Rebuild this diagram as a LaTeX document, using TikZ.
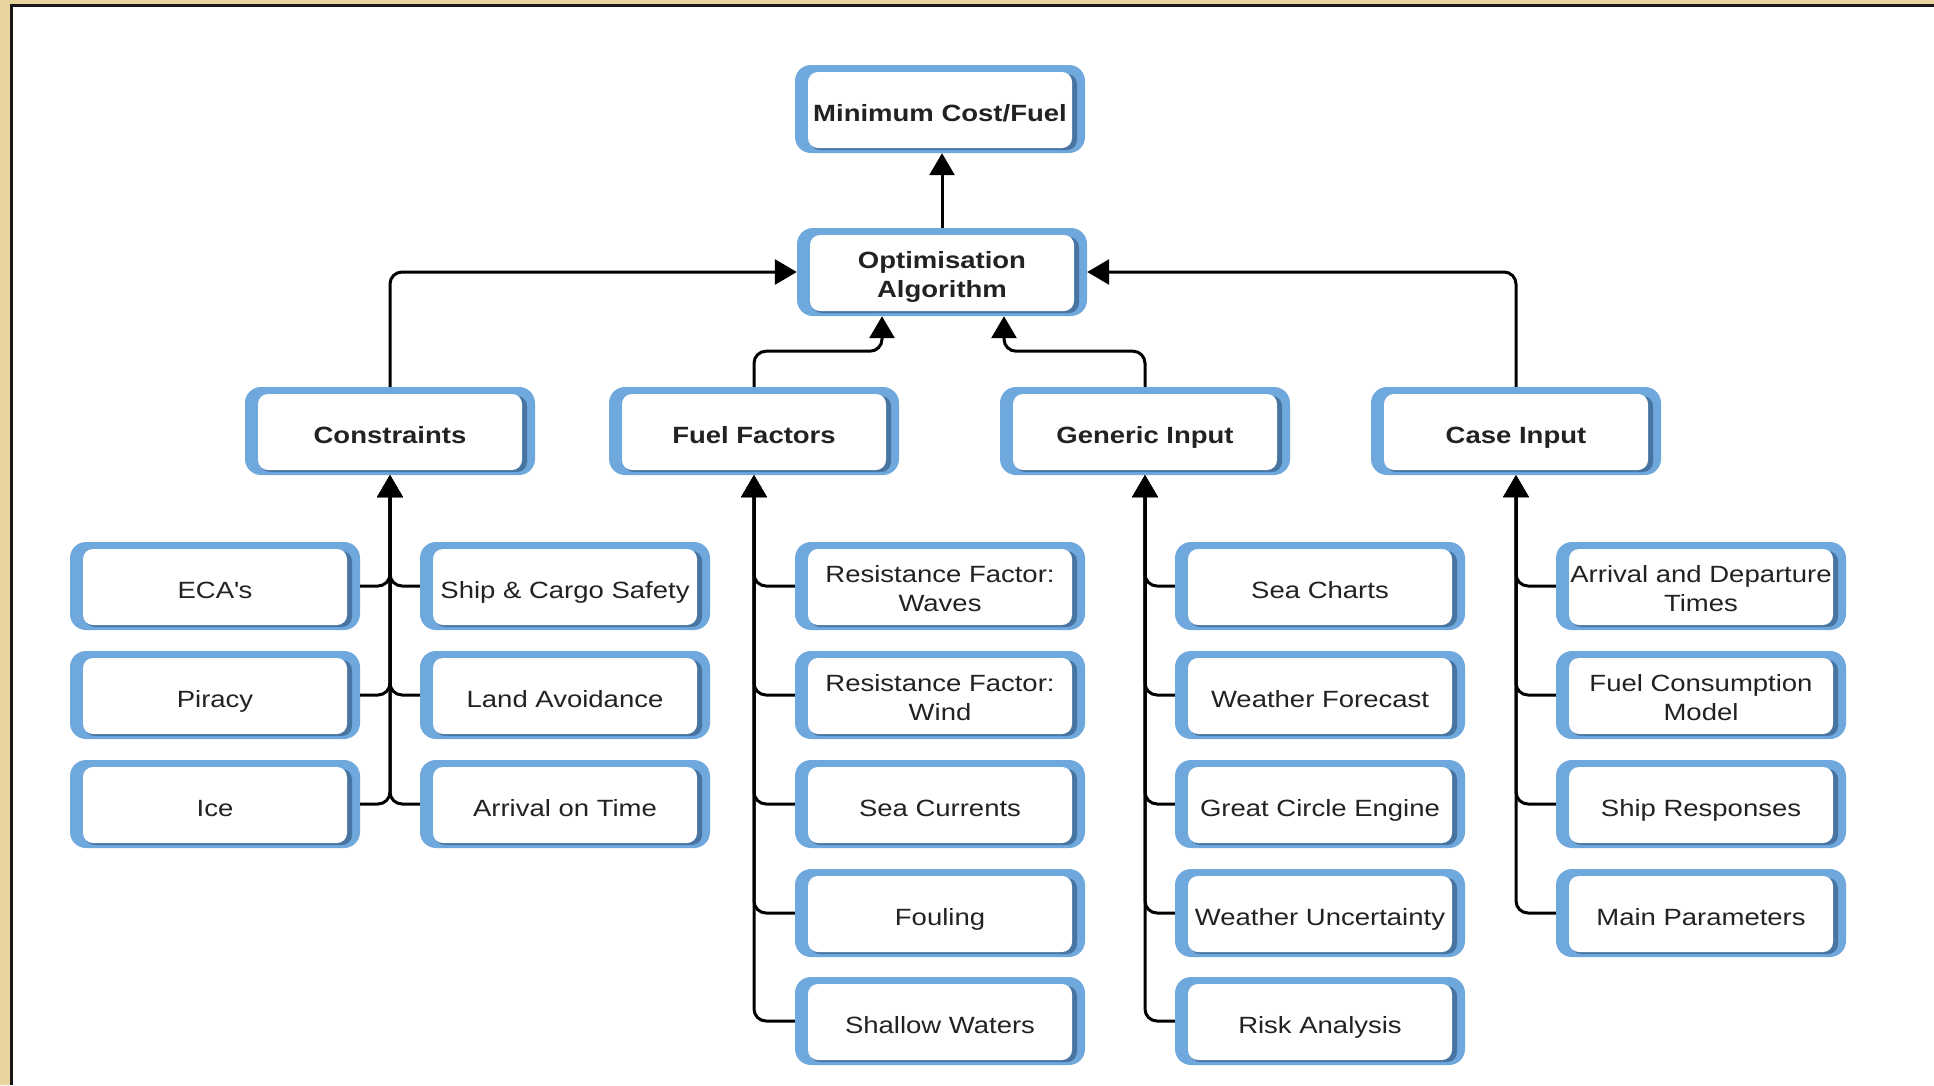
\documentclass[tikz,border=0pt]{standalone}
\usepackage{fontspec}
\setmainfont{Liberation Sans}[FakeStretch=1.17]
\usetikzlibrary{arrows.meta,calc}
\definecolor{beige}{RGB}{233,211,158}
\definecolor{boxblue}{RGB}{111,168,220}
\definecolor{boxdark}{RGB}{72,116,162}
\definecolor{txtc}{RGB}{34,34,34}
\newcommand{\diabox}[4]{%
  \fill[boxblue, rounded corners=16pt] ({#2-145},{#3-44}) rectangle ({#2+145},{#3+44});
  \fill[boxdark, rounded corners=10pt] ({#2-130},{#3-35}) rectangle ({#2+137},{#3+41});
  \fill[white, rounded corners=10pt] ({#2-132},{#3-37}) rectangle ({#2+132},{#3+39});
  \node[boxshape] (#1) at (#2,#3) {};
  \node[boxtext] (#1-t) at (#2,{#3+7}) {#4};
}
\begin{document}
\begin{tikzpicture}[x=1pt,y=-1pt,
  boxshape/.style={minimum width=290pt, minimum height=88pt, inner sep=0pt},
  boxtext/.style={inner sep=0pt, align=center, text=txtc,
    font=\fontsize{23.5}{29.5}\selectfont,
    execute at begin node=\strut, execute at end node=\strut},
  conn/.style={draw=black, line width=3pt, rounded corners=12pt,
    -{Triangle[length=22pt,width=25pt]}}
]
\useasboundingbox (0,0) rectangle (1934,1085);
\fill[beige] (0,0) rectangle (1934,1085);
\fill[white] (11,5) rectangle (1934,1085);
\draw[black!90, line width=3pt] (11,1085) -- (11,5) -- (1934,5);

% top
\diabox{min}{940}{109}{\bfseries Minimum Cost/Fuel}
\diabox{opt}{942}{272}{\bfseries Optimisation\\\bfseries Algorithm}

% row 2
\diabox{con}{390}{431}{\bfseries Constraints}
\diabox{ff}{754}{431}{\bfseries Fuel Factors}
\diabox{gi}{1145}{431}{\bfseries Generic Input}
\diabox{ci}{1516}{431}{\bfseries Case Input}

% constraints children
\diabox{eca}{215}{586}{ECA\textquotesingle s}
\diabox{pir}{215}{695}{Piracy}
\diabox{ice}{215}{804}{Ice}
\diabox{scs}{565}{586}{Ship \& Cargo Safety}
\diabox{lav}{565}{695}{Land Avoidance}
\diabox{aot}{565}{804}{Arrival on Time}

% fuel factors children
\diabox{rfwa}{940}{586}{Resistance Factor:\\Waves}
\diabox{rfwi}{940}{695}{Resistance Factor:\\Wind}
\diabox{sc}{940}{804}{Sea Currents}
\diabox{fou}{940}{913}{Fouling}
\diabox{sw}{940}{1021}{Shallow Waters}

% generic input children
\diabox{sch}{1320}{586}{Sea Charts}
\diabox{wf}{1320}{695}{Weather Forecast}
\diabox{gce}{1320}{804}{Great Circle Engine}
\diabox{wu}{1320}{913}{Weather Uncertainty}
\diabox{ra}{1320}{1021}{Risk Analysis}

% case input children
\diabox{adt}{1701}{586}{Arrival and Departure\\Times}
\diabox{fcm}{1701}{695}{Fuel Consumption\\Model}
\diabox{sr}{1701}{804}{Ship Responses}
\diabox{mp}{1701}{913}{Main Parameters}

% connectors to top
\draw[conn] (opt.north) -- (opt.north |- min.south);
\draw[conn] (con.north) |- (opt.west);
\draw[conn] (ci.north) |- (opt.east);
\draw[conn] (ff.north) |- ($(opt.south)+(-60,35)$) -- ([xshift=-60pt]opt.south);
\draw[conn] (gi.north) |- ($(opt.south)+(62,35)$) -- ([xshift=62pt]opt.south);

% children connectors
\foreach \c in {eca,pir,ice} \draw[conn] (\c.east) -| (con.south);
\foreach \c in {scs,lav,aot} \draw[conn] (\c.west) -| (con.south);
\foreach \c in {rfwa,rfwi,sc,fou,sw} \draw[conn] (\c.west) -| (ff.south);
\foreach \c in {sch,wf,gce,wu,ra} \draw[conn] (\c.west) -| (gi.south);
\foreach \c in {adt,fcm,sr,mp} \draw[conn] (\c.west) -| (ci.south);
\end{tikzpicture}
\end{document}
